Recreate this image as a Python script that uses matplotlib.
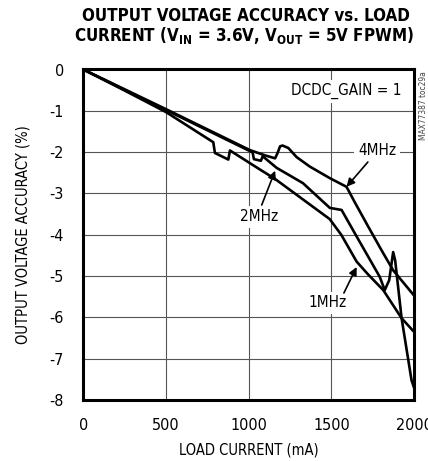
import matplotlib
matplotlib.use("Agg")
import matplotlib.pyplot as plt
from matplotlib import font_manager as fm

# ---- data -------------------------------------------------------------
load_1mhz = [0, 250, 500, 786, 796, 877, 887, 1068, 1160, 1330, 1490, 1560,
             1653, 1720, 1814, 1925, 2000]
acc_1mhz = [0, -0.51, -1.03, -1.76, -2.02, -2.18, -1.96, -2.42, -2.65, -3.15,
            -3.62, -4.0, -4.65, -4.95, -5.34, -6.02, -6.35]

load_2mhz = [0, 500, 1000, 1024, 1032, 1074, 1085, 1169, 1328, 1491, 1562,
             1640, 1793, 1823, 1850, 1874, 1886, 1925, 1985, 2000]
acc_2mhz = [0, -0.98, -1.96, -2.01, -2.17, -2.21, -2.1, -2.38, -2.75, -3.35,
            -3.4, -3.95, -5.02, -5.34, -5.1, -4.42, -4.62, -6.02, -7.52, -7.7]

load_4mhz = [0, 500, 1007, 1100, 1160, 1175, 1190, 1205, 1240, 1290, 1370,
             1491, 1592, 1640, 1720, 1800, 1874, 2000]
acc_4mhz = [0, -0.96, -1.95, -2.08, -2.15, -2.02, -1.86, -1.84, -1.9, -2.12,
            -2.35, -2.63, -2.84, -3.2, -3.78, -4.35, -4.86, -5.47]

x_ticks = [0, 500, 1000, 1500, 2000]
y_ticks = [0, -1, -2, -3, -4, -5, -6, -7, -8]

# ---- fonts ------------------------------------------------------------
names = {f.name for f in fm.fontManager.ttflist}
has_dv_cond = any(f.name == "DejaVu Sans" and str(f.stretch) in ("condensed", "semi-condensed")
                  for f in fm.fontManager.ttflist)
if "Liberation Sans Narrow" in names:
    narrow = dict(family="Liberation Sans Narrow")
    math_bf = "Liberation Sans Narrow:weight=bold"
elif has_dv_cond:
    narrow = dict(family="DejaVu Sans", stretch="condensed")
    math_bf = "DejaVu Sans:weight=bold:stretch=condensed"
else:
    narrow = dict(family="Liberation Sans")
    math_bf = "Liberation Sans:weight=bold"

plt.rcParams["axes.unicode_minus"] = False
plt.rcParams["mathtext.fontset"] = "custom"
plt.rcParams["mathtext.bf"] = math_bf
plt.rcParams["mathtext.rm"] = math_bf

W, H = 428, 461
fig = plt.figure(figsize=(W / 100, H / 100), dpi=100)
ax = fig.add_axes([83.3 / W, 1 - 400 / H, (414 - 83.3) / W, (400 - 69.5) / H])

# ---- curves -----------------------------------------------------------
for xs, ys in ((load_1mhz, acc_1mhz), (load_2mhz, acc_2mhz), (load_4mhz, acc_4mhz)):
    ax.plot(xs, ys, color="black", lw=1.9, solid_joinstyle="round", zorder=3)

ax.set_xlim(0, 2000)
ax.set_ylim(-8, 0)
ax.set_xticks(x_ticks)
ax.set_yticks(y_ticks)
ax.set_xticklabels([str(v) for v in x_ticks], fontsize=11.5, **narrow)
ax.set_yticklabels([str(v) for v in y_ticks], fontsize=11.5, **narrow)
ax.tick_params(length=0, pad=13)
ax.tick_params(axis="y", pad=14)
ax.grid(True, color="#555555", lw=0.8)
ax.set_axisbelow(True)
for s in ax.spines.values():
    s.set_linewidth(2.2)

ax.set_xlabel("LOAD CURRENT (mA)", fontsize=10.5, labelpad=7, **narrow)
ax.set_ylabel("OUTPUT VOLTAGE ACCURACY (%)", fontsize=10.5, labelpad=14, **narrow)

# ---- labels and arrows ------------------------------------------------
box = dict(facecolor="white", edgecolor="none", pad=2.5)
ax.text(1591, -0.53, "DCDC_GAIN = 1", ha="center", va="center", fontsize=11,
        bbox=box, zorder=4, **narrow)
ax.text(1776, -1.95, "4MHz", ha="center", va="center", fontsize=11,
        bbox=box, zorder=4, **narrow)
ax.text(1063, -3.56, "2MHz", ha="center", va="center", fontsize=11,
        bbox=box, zorder=4, **narrow)
ax.text(1479, -5.65, "1MHz", ha="center", va="center", fontsize=11,
        bbox=box, zorder=4, **narrow)

arrow = dict(arrowstyle="-|>", color="black", lw=1.2, mutation_scale=12,
             shrinkA=0, shrinkB=0)
ax.annotate("", xy=(1592, -2.84), xytext=(1721, -2.24), arrowprops=arrow, zorder=5)
ax.annotate("", xy=(1160, -2.45), xytext=(1079, -3.28), arrowprops=arrow, zorder=5)
ax.annotate("", xy=(1653, -4.78), xytext=(1576, -5.41), arrowprops=arrow, zorder=5)

# ---- title ------------------------------------------------------------
tkw = dict(ha="center", va="baseline", fontsize=12.2, fontweight="bold", **narrow)
fig.text(246 / W, 1 - 20.7 / H, "OUTPUT VOLTAGE ACCURACY vs. LOAD", **tkw)
fig.text(244 / W, 1 - 41.5 / H,
         r"CURRENT (V$_{\mathbf{IN}}$ = 3.6V, V$_{\mathbf{OUT}}$ = 5V FPWM)", **tkw)

fig.text(423.5 / W, 1 - 106 / H, "MAX77387 toc29a", rotation=90, ha="center",
         va="center", fontsize=6, color="#444444", **narrow)

fig.savefig("out.png", dpi=100)
